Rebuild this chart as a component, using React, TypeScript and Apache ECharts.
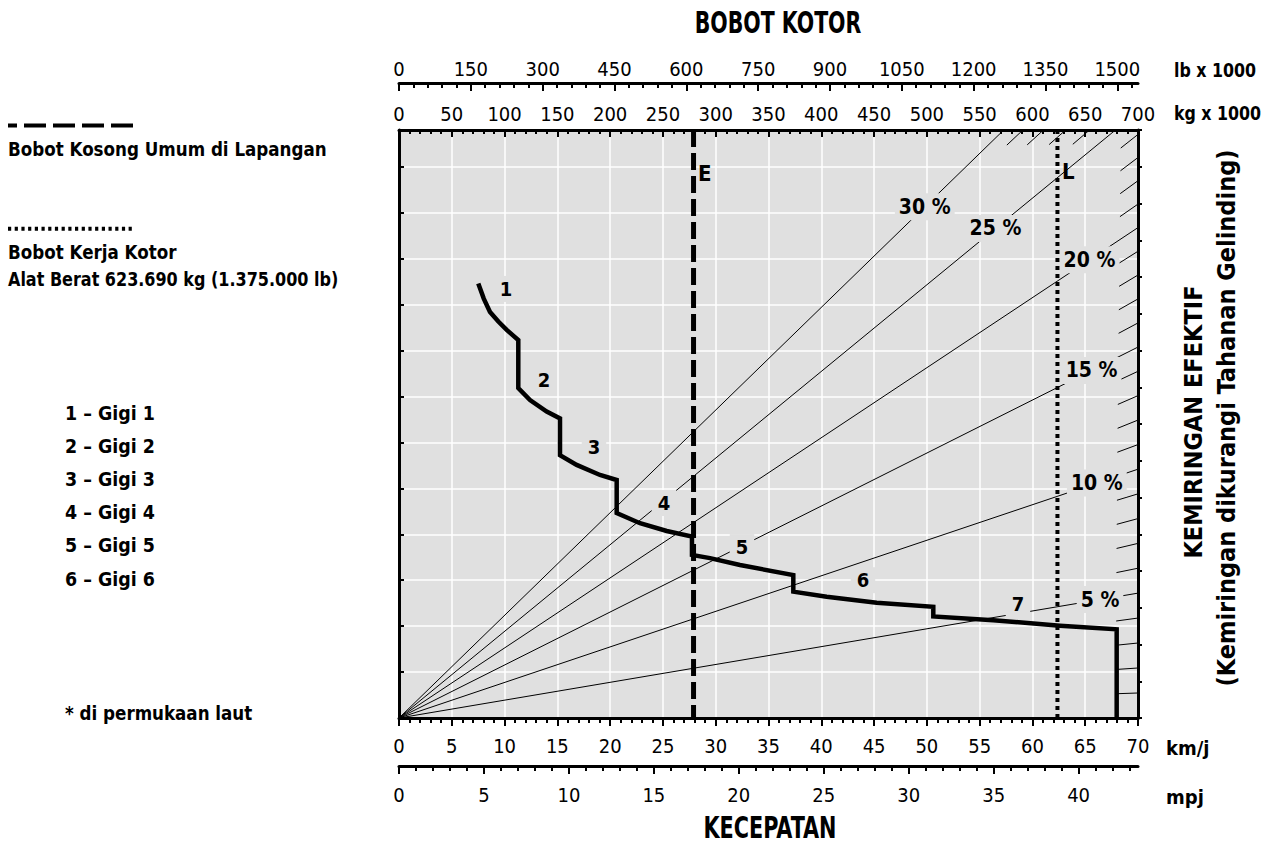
import React, { useEffect, useRef } from 'react';
import * as echarts from 'echarts';

const FONT = "'Liberation Sans Narrow', 'DejaVu Sans Condensed', 'Arial Narrow', Roboto, sans-serif";
const PLOT_BG = '#e0e0e0';

// ---- axis ranges ----
const SPEED_KMH_MAX = 70;
const SPEED_MPH_MAX = 43.496; // = 70 km/h
const WEIGHT_KG_MAX = 700; // kg x 1000
const WEIGHT_LB_MAX = 1543.2; // lb x 1000 (= 700 t)
const GRID_Y_MAX = 12.8; // rimpull grid units
const RIGHT_Y_MAX = 16;
const PULL_MAX = 164.6; // grade pull (t) at the top edge

// ---- tick labels ----
const lbTicks = [0, 150, 300, 450, 600, 750, 900, 1050, 1200, 1350, 1500];
const lbMinorTicks = [0, 30, 60, 90, 120, 150, 180, 210, 240, 270, 300, 330, 360, 390, 420, 450, 480, 510, 540, 570, 600, 630, 660, 690, 720, 750, 780, 810, 840, 870, 900, 930, 960, 990, 1020, 1050, 1080, 1110, 1140, 1170, 1200, 1230, 1260, 1290, 1320, 1350, 1380, 1410, 1440, 1470, 1500, 1530];
const mphTicks = [0, 5, 10, 15, 20, 25, 30, 35, 40];
const mphMinorTicks = [0, 1, 2, 3, 4, 5, 6, 7, 8, 9, 10, 11, 12, 13, 14, 15, 16, 17, 18, 19, 20, 21, 22, 23, 24, 25, 26, 27, 28, 29, 30, 31, 32, 33, 34, 35, 36, 37, 38, 39, 40, 41, 42, 43];

// ---- rimpull curve (km/h, grid units) ----
const curveSpeed = [7.51, 8.03, 8.62, 9.41, 10.20, 11.30, 11.30, 12.41, 13.99, 15.25, 15.25, 16.83, 19.04, 20.62, 20.62, 22.83, 25.36, 27.75, 27.75, 29.46, 32.30, 37.35, 37.35, 40.51, 45.25, 50.61, 50.61, 56.29, 62.61, 67.98, 67.98];
const curvePull = [9.46, 9.13, 8.84, 8.63, 8.45, 8.23, 7.18, 6.92, 6.67, 6.52, 5.72, 5.51, 5.29, 5.18, 4.46, 4.24, 4.07, 3.95, 3.55, 3.48, 3.33, 3.11, 2.75, 2.64, 2.51, 2.42, 2.21, 2.13, 2.01, 1.93, 0];

// ---- gear labels ----
const gearLabels = ['1', '2', '3', '4', '5', '6', '7'];
const gearLabelSpeed = [10.14, 13.73, 18.47, 25.1, 32.49, 43.95, 58.63];
const gearLabelPull = [9.34, 7.36, 5.9, 4.68, 3.72, 3.0, 2.48];

// ---- grade lines ----
const gradeFull = [5, 10, 15, 20, 25, 30];
const gradeLabelKg = [664, 661, 656, 654, 565, 498];
const gradeHash = [1, 2, 3, 4, 6, 7, 8, 9, 11, 12, 13, 14, 16, 17, 18, 19, 21, 22, 23, 24, 26, 27, 28, 29];

// ---- weights ----
const emptyWeightKg = 279;
const grossWeightKg = 623.69;

const legendGears = ['1 – Gigi 1', '2 – Gigi 2', '3 – Gigi 3', '4 – Gigi 4', '5 – Gigi 5', '6 – Gigi 6'];

const PX_W = 739;
const PX_H = 588;

function gradeFactor(g: number) {
  return Math.sin(Math.atan(g / 100));
}
function gradeEnd(g: number): number[] {
  const s = gradeFactor(g);
  if (s * WEIGHT_KG_MAX <= PULL_MAX) return [WEIGHT_KG_MAX, s * WEIGHT_KG_MAX];
  return [PULL_MAX / s, PULL_MAX];
}
function hashStart(g: number): number[] {
  const e = gradeEnd(g);
  const L = Math.hypot((e[0] / WEIGHT_KG_MAX) * PX_W, (e[1] / PULL_MAX) * PX_H);
  const t = 1 - 22 / L;
  return [e[0] * t, e[1] * t];
}

const plain = (v: number) => String(v);
const tickFont = { fontFamily: FONT, fontSize: 20, color: '#000', formatter: plain };
const hiddenItem = { color: 'rgba(0,0,0,0)', opacity: 1 };

function txt(text: string, x: number, y: number, size: number, align = 'left', extra: any = {}) {
  return {
    type: 'text',
    x,
    y,
    ...extra,
    style: {
      text,
      x: 0,
      y: 0,
      fill: '#000',
      fontFamily: FONT,
      fontSize: size,
      fontWeight: 'bold',
      align,
      verticalAlign: 'middle',
      textAlign: align,
      textVerticalAlign: 'middle',
    },
  };
}

export default function App() {
  const ref = useRef<HTMLDivElement>(null);
  useEffect(() => {
    if (!ref.current) return;
    const chart = echarts.init(ref.current, null, { renderer: 'svg' });

    const series: any[] = [];
    // full grade lines
    gradeFull.forEach((g) => {
      series.push({
        type: 'line',
        xAxisIndex: 2,
        yAxisIndex: 1,
        data: [[0, 0], gradeEnd(g)],
        symbol: 'none',
        silent: true,
        z: 2,
        lineStyle: { color: '#000', width: 1 },
      });
    });
    // short hash marks for other grades
    gradeHash.forEach((g) => {
      series.push({
        type: 'line',
        xAxisIndex: 2,
        yAxisIndex: 1,
        data: [hashStart(g), gradeEnd(g)],
        symbol: 'none',
        silent: true,
        z: 2,
        lineStyle: { color: '#000', width: 1 },
      });
    });
    // grade labels
    series.push({
      type: 'scatter',
      xAxisIndex: 2,
      yAxisIndex: 1,
      symbolSize: 1,
      itemStyle: hiddenItem,
      silent: true,
      z: 3,
      data: gradeFull.map((g, i) => ({
        value: [gradeLabelKg[i], gradeLabelKg[i] * gradeFactor(g)],
        label: { formatter: `${g} %` },
      })),
      label: {
        show: true,
        position: 'inside',
        fontFamily: FONT,
        fontSize: 21,
        fontWeight: 'bold',
        color: '#000',
        backgroundColor: PLOT_BG,
        padding: [3, 4],
      },
    });
    // gear labels
    series.push({
      type: 'scatter',
      xAxisIndex: 0,
      yAxisIndex: 0,
      symbolSize: 1,
      itemStyle: hiddenItem,
      silent: true,
      z: 3,
      data: gearLabels.map((t, i) => ({ value: [gearLabelSpeed[i], gearLabelPull[i]], label: { formatter: t } })),
      label: {
        show: true,
        position: 'inside',
        fontFamily: FONT,
        fontSize: 20,
        fontWeight: 'bold',
        color: '#000',
        backgroundColor: PLOT_BG,
        padding: [3, 6],
      },
    });
    // E line
    series.push({
      type: 'line',
      xAxisIndex: 2,
      yAxisIndex: 0,
      data: [[emptyWeightKg, GRID_Y_MAX], [emptyWeightKg, 0]],
      symbol: 'none',
      silent: true,
      z: 4,
      lineStyle: { color: '#000', width: 5, type: [17, 6], cap: 'butt' },
    });
    // L line
    series.push({
      type: 'line',
      xAxisIndex: 2,
      yAxisIndex: 0,
      data: [[grossWeightKg, GRID_Y_MAX], [grossWeightKg, 0]],
      symbol: 'none',
      silent: true,
      z: 4,
      lineStyle: { color: '#000', width: 4, type: [4, 4], cap: 'butt' },
    });
    // E / L labels
    series.push({
      type: 'scatter',
      xAxisIndex: 2,
      yAxisIndex: 0,
      symbolSize: 1,
      itemStyle: hiddenItem,
      silent: true,
      z: 4,
      data: [
        { value: [emptyWeightKg, 11.86], label: { formatter: 'E' } },
        { value: [grossWeightKg, 11.9], label: { formatter: 'L' } },
      ],
      label: { show: true, position: 'right', distance: 4, fontFamily: FONT, fontSize: 22, fontWeight: 'bold', color: '#000' },
    });
    // rimpull curve
    series.push({
      type: 'line',
      xAxisIndex: 0,
      yAxisIndex: 0,
      data: curveSpeed.map((s, i) => [s, curvePull[i]]),
      symbol: 'none',
      silent: true,
      z: 5,
      lineStyle: { color: '#000', width: 4.5, join: 'miter' },
    });

    const axisLineBlack = { show: true, onZero: false, lineStyle: { color: '#000', width: 3 } };
    const noLine = { show: false, onZero: false };

    const option: any = {
      animation: false,
      backgroundColor: '#fff',
      grid: { left: 399, top: 130, width: PX_W, height: PX_H, show: true, backgroundColor: PLOT_BG, borderWidth: 0 },
      xAxis: [
        // 0: km/h major
        {
          type: 'value', position: 'bottom', min: 0, max: SPEED_KMH_MAX, interval: 5,
          axisLine: axisLineBlack,
          axisTick: { show: true, inside: false, length: 8, lineStyle: { color: '#000', width: 2 } },
          axisLabel: { ...tickFont, margin: 18 },
          splitLine: { show: true, lineStyle: { color: '#fff', width: 1.5 } },
        },
        // 1: km/h minor
        {
          type: 'value', position: 'bottom', min: 0, max: SPEED_KMH_MAX, interval: 1,
          axisLine: noLine,
          axisTick: { show: true, inside: false, length: 5, lineStyle: { color: '#000', width: 2 } },
          axisLabel: { show: false }, splitLine: { show: false },
        },
        // 2: kg major
        {
          type: 'value', position: 'top', min: 0, max: WEIGHT_KG_MAX, interval: 50,
          axisLine: axisLineBlack,
          axisTick: { show: true, inside: true, length: 7, lineStyle: { color: '#000', width: 2 } },
          axisLabel: { ...tickFont, margin: 6 },
          splitLine: { show: false },
        },
        // 3: kg minor
        {
          type: 'value', position: 'top', min: 0, max: WEIGHT_KG_MAX, interval: 10,
          axisLine: noLine,
          axisTick: { show: true, inside: true, length: 4, lineStyle: { color: '#000', width: 2 } },
          axisLabel: { show: false }, splitLine: { show: false },
        },
        // 4: lb major
        {
          type: 'value', position: 'top', offset: 47, min: 0, max: WEIGHT_LB_MAX, interval: 150,
          axisLine: axisLineBlack,
          axisTick: { show: true, inside: true, length: 8, customValues: lbTicks, lineStyle: { color: '#000', width: 2 } },
          axisLabel: { ...tickFont, margin: 4, customValues: lbTicks },
          splitLine: { show: false },
        },
        // 5: lb minor
        {
          type: 'value', position: 'top', offset: 47, min: 0, max: WEIGHT_LB_MAX, interval: 30,
          axisLine: noLine,
          axisTick: { show: true, inside: true, length: 5, customValues: lbMinorTicks, lineStyle: { color: '#000', width: 2 } },
          axisLabel: { show: false }, splitLine: { show: false },
        },
        // 6: mph major
        {
          type: 'value', position: 'bottom', offset: 48, min: 0, max: SPEED_MPH_MAX, interval: 5,
          axisLine: axisLineBlack,
          axisTick: { show: true, inside: false, length: 8, customValues: mphTicks, lineStyle: { color: '#000', width: 2 } },
          axisLabel: { ...tickFont, margin: 19, customValues: mphTicks },
          splitLine: { show: false },
        },
        // 7: mph minor
        {
          type: 'value', position: 'bottom', offset: 48, min: 0, max: SPEED_MPH_MAX, interval: 1,
          axisLine: noLine,
          axisTick: { show: true, inside: false, length: 5, customValues: mphMinorTicks, lineStyle: { color: '#000', width: 2 } },
          axisLabel: { show: false }, splitLine: { show: false },
        },
      ],
      yAxis: [
        {
          type: 'value', position: 'left', min: 0, max: GRID_Y_MAX, interval: 1,
          axisLine: axisLineBlack,
          axisTick: { show: true, inside: true, length: 5, lineStyle: { color: '#000', width: 2 } },
          axisLabel: { show: false },
          splitLine: { show: true, lineStyle: { color: '#fff', width: 1.5 } },
        },
        { type: 'value', show: false, min: 0, max: PULL_MAX, splitLine: { show: false } },
        {
          type: 'value', position: 'right', min: 0, max: RIGHT_Y_MAX, interval: 1,
          axisLine: axisLineBlack,
          axisTick: { show: true, inside: false, length: 4, lineStyle: { color: '#000', width: 2 } },
          axisLabel: { show: false },
          splitLine: { show: false },
        },
      ],
      series,
      graphic: [
        txt('BOBOT KOTOR', 778, 22, 30, 'center', { scaleX: 0.76 }),
        txt('KECEPATAN', 770, 827, 30, 'center', { scaleX: 0.77 }),
        txt('lb x 1000', 1174, 70, 20, 'left', { scaleX: 0.88 }),
        txt('kg x 1000', 1174, 113, 20, 'left', { scaleX: 0.88 }),
        txt('km/j', 1166, 748, 20),
        txt('mpj', 1166, 797, 20),
        txt('KEMIRINGAN EFEKTIF', 1193, 422, 25, 'center', { rotation: Math.PI / 2 }),
        txt('(Kemiringan dikurangi Tahanan Gelinding)', 1226, 418, 25, 'center', { rotation: Math.PI / 2 }),
        {
          type: 'line',
          shape: { x1: 8, y1: 125.5, x2: 135, y2: 125.5 },
          style: { stroke: '#000', lineWidth: 4, lineDash: [22, 7], lineDashOffset: 13 },
        },
        txt('Bobot Kosong Umum di Lapangan', 8, 149, 20, 'left', { scaleX: 0.93 }),
        {
          type: 'line',
          shape: { x1: 8, y1: 228.7, x2: 135, y2: 228.7 },
          style: { stroke: '#000', lineWidth: 4, lineDash: [3.2, 3.5] },
        },
        txt('Bobot Kerja Kotor', 8, 252, 20, 'left', { scaleX: 0.93 }),
        txt('Alat Berat 623.690 kg (1.375.000 lb)', 8, 279, 20, 'left', { scaleX: 0.89 }),
        ...legendGears.map((t, i) => txt(t, 65, 413 + 33.2 * i, 20, 'left', { scaleX: 0.97 })),
        txt('* di permukaan laut', 65, 713, 20, 'left', { scaleX: 0.93 }),
      ],
    };
    chart.setOption(option);
    return () => chart.dispose();
  }, []);
  return <div ref={ref} style={{ position: 'fixed', left: 0, top: 0, width: 1267, height: 851 }} />;
}
